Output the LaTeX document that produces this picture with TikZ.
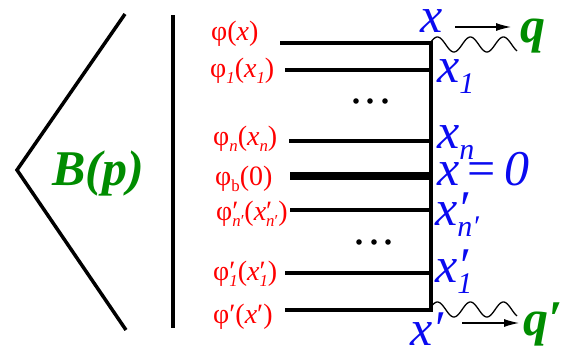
\documentclass[tikz,border=0pt]{standalone}
\usepackage{fontspec}
\newfontfamily\lib{Liberation Serif}
\usetikzlibrary{arrows.meta}
\definecolor{myred}{RGB}{255,0,0}
\definecolor{myblue}{RGB}{10,10,240}
\definecolor{mygreen}{RGB}{0,140,0}
\newcommand\lo[1]{\raisebox{-0.22em}{\scalebox{0.6}{#1}}}
\newcommand\ps[2]{\makebox[0pt][l]{#1}\lo{#2}}
\newcommand\redf{\lib\fontsize{28}{28}\selectfont}
\newcommand\bluef{\lib\fontsize{50}{50}\selectfont\itshape}
\newcommand\greenf{\lib\fontsize{50}{50}\selectfont\bfseries\itshape}
\tikzset{
  rl/.style={anchor=base west,inner sep=0,text=myred},
  bl/.style={anchor=base west,inner sep=0,text=myblue},
  gl/.style={anchor=base west,inner sep=0,text=mygreen},
  hl/.style={line width=3.5pt},
  wavy/.style={line width=1.3pt},
  mom/.style={line width=1.2pt,-{Latex[length=15pt,width=8pt]}},
}
\begin{document}
\begin{tikzpicture}[x=1pt,y=-1pt]
\useasboundingbox (0,0) rectangle (574,351);
% chevron and bar
\coordinate (c1) at (125,14);
\coordinate (c2) at (17,170);
\coordinate (c3) at (126,330);
\draw[hl] (c1) -- (c2) -- (c3);
\coordinate (v1) at (173,15);
\coordinate (v2) at (173,328);
\draw[hl] (v1) -- (v2);
\node[gl] (B) at (52,185) {\greenf B(p)};
% red labels
\node[rl] (l1) at (211,40) {\redf φ(\textit{x})};
\node[rl] (l2) at (210,77) {\redf φ\lo{\textit{1}}(\textit{x}\lo{\textit{1}})};
\node[rl] (l3) at (213,145) {\redf φ\lo{\textit{n}}(\textit{x}\lo{\textit{n}})};
\node[rl] (l4) at (215,185) {\redf φ\lo{b}(0)};
\node[rl] (l5) at (216,220) {\redf φ\ps{′}{\textit{n}′}(\textit{x}\ps{′}{\textit{n}′})};
\node[rl] (l6) at (213,280) {\redf φ\ps{′}{\textit{1}}(\textit{x}\ps{′}{\textit{1}})};
\node[rl] (l7) at (213,323) {\redf φ′(\textit{x}′)};
% line start and end points
\coordinate (s1) at (280,43); \coordinate (r1) at (431,43);
\coordinate (s2) at (285,70); \coordinate (r2) at (431,70);
\coordinate (s3) at (289,141); \coordinate (r3) at (431,141);
\coordinate (s4) at (290,176); \coordinate (r4) at (431,176);
\coordinate (s5) at (290,210); \coordinate (r5) at (431,210);
\coordinate (s6) at (285,273); \coordinate (r6) at (431,273);
\coordinate (s7) at (285,310); \coordinate (r7) at (431,310);
\draw[hl] (s1) -- (r1);
\draw[hl] (s2) -- (r2);
\draw[hl] (s3) -- (r3);
\draw[line width=8pt] (s4) -- (r4);
\draw[hl] (s5) -- (r5);
\draw[hl] (s6) -- (r6);
\draw[hl] (s7) -- (r7);
\draw[line width=4pt,line cap=rect] (r1) -- (r7);
% dots
\foreach \px in {356,370,385} \fill (\px,101) circle (2.8);
\foreach \px in {359,374,388} \fill (\px,242) circle (2.8);
% waves
\begin{scope}[shift={(r1)}]
\draw[wavy] plot[domain=0:86,samples=90,smooth] (\x,{1.5-7.5*sin(\x*10.909+20)});
\end{scope}
\begin{scope}[shift={(r7)}]
\draw[wavy] plot[domain=0:86,samples=90,smooth] (\x,{-0.5-7.5*sin(\x*10.909+20)});
\end{scope}
% momentum arrows
\coordinate (a1) at (455,27); \coordinate (a2) at (511,27);
\draw[mom] (a1) -- (a2);
\coordinate (a3) at (462,323); \coordinate (a4) at (519,323);
\draw[mom] (a3) -- (a4);
\node[gl] (q) at (520,42) {\greenf q};
\node[gl] (qp) at (523,335) {\greenf q′};
% blue labels
\node[bl] (x) at (420,32) {\bluef x};
\node[bl] (x1) at (437,82) {\bluef x\lo{1}};
\node[bl] (xn) at (437,148) {\bluef x\lo{n}};
\node[bl] (x0) at (437,185) {\bluef x\,{\upshape =}\,0};
\node[bl] (xnp) at (435,225) {\bluef x\ps{′}{n′}};
\node[bl] (x1p) at (435,282) {\bluef x\ps{′}{1}};
\node[bl] (xp) at (410,345) {\bluef x′};
\end{tikzpicture}
\end{document}
